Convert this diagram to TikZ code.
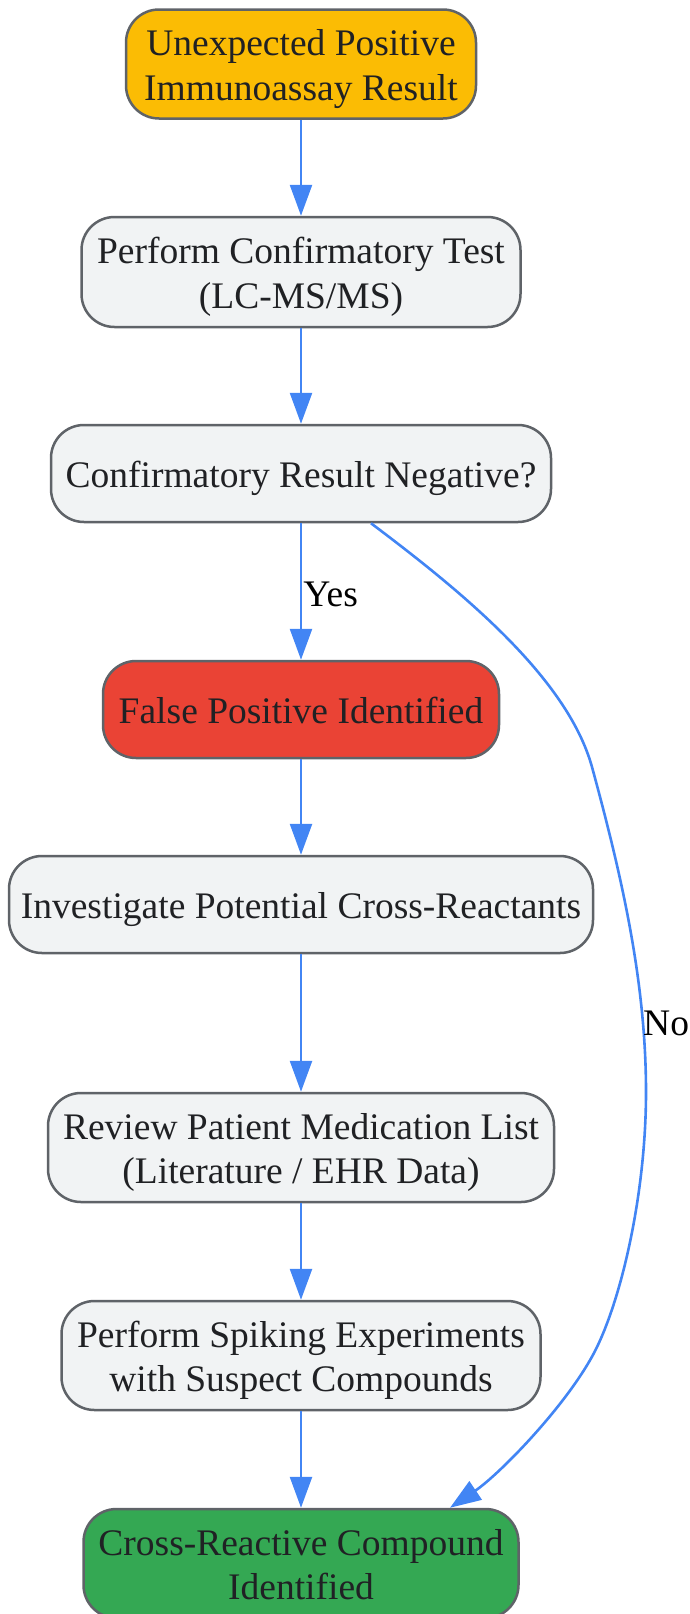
\documentclass[tikz,border=0pt]{standalone}
\usepackage{fontspec}
\setmainfont{Liberation Serif}
\usetikzlibrary{arrows.meta}
\definecolor{cyel}{HTML}{FBBC04}
\definecolor{cgrey}{HTML}{F1F3F4}
\definecolor{cred}{HTML}{EA4335}
\definecolor{cgreen}{HTML}{34A853}
\definecolor{cstroke}{HTML}{5F6368}
\definecolor{cblue}{HTML}{4285F4}
\definecolor{ctext}{HTML}{202124}
\newcommand\boxtxt[1]{\raisebox{-5pt}[\height][\depth]{\begin{tabular}{@{}c@{}}#1\end{tabular}}}
\begin{document}
\begin{tikzpicture}[x=1pt,y=-1pt,
  box/.style={draw=cstroke, line width=2.5pt, rounded corners=33pt,
    text=ctext, font=\fontsize{37.5}{44.5}\selectfont, inner sep=0pt},
  arr/.style={draw=cblue, line width=2.6pt, -{Triangle[length=31pt,width=22pt]}},
  lbl/.style={font=\fontsize{37.5}{44.5}\selectfont, text=black, inner sep=0pt}]
\useasboundingbox (0,0) rectangle (689,1614);
\node[box, fill=cyel, minimum width=350pt, minimum height=109pt] (n1) at (301,64) {\boxtxt{Unexpected Positive\\Immunoassay Result}};
\node[box, fill=cgrey, minimum width=439pt, minimum height=110pt] (n2) at (301,272) {\boxtxt{Perform Confirmatory Test\\(LC-MS/MS)}};
\node[box, fill=cgrey, minimum width=500pt, minimum height=97pt] (n3) at (301,473.5) {\boxtxt{Confirmatory Result Negative?}};
\node[box, fill=cred, minimum width=396pt, minimum height=97pt] (n4) at (301,709.5) {\boxtxt{False Positive Identified}};
\node[box, fill=cgrey, minimum width=584pt, minimum height=97pt] (n5) at (301,904.5) {\boxtxt{Investigate Potential Cross-Reactants}};
\node[box, fill=cgrey, minimum width=506pt, minimum height=109pt] (n6) at (301,1147.5) {\boxtxt{Review Patient Medication List\\(Literature / EHR Data)}};
\node[box, fill=cgrey, minimum width=479pt, minimum height=109pt] (n7) at (301,1355.5) {\boxtxt{Perform Spiking Experiments\\with Suspect Compounds}};
\node[box, fill=cgreen, minimum width=435pt, minimum height=109pt] (n8) at (301,1563.5) {\boxtxt{Cross-Reactive Compound\\Identified}};
\draw[arr] (n1.south) -- (n2.north);
\draw[arr] (n2.south) -- (n3.north);
\draw[arr] (n3.south) -- node[lbl, anchor=west, pos=0.52, xshift=1pt] (yes) {Yes} (n4.north);
\draw[arr] (n4.south) -- (n5.north);
\draw[arr] (n5.south) -- (n6.north);
\draw[arr] (n6.south) -- (n7.north);
\draw[arr] (n7.south) -- (n8.north);
\draw[arr] ([xshift=70pt]n3.south) .. controls (461,591) and (567,677) .. (592,767)
  .. controls (622,877) and (646,982) .. (646,1092)
  .. controls (646,1190) and (623,1293) .. (597,1347)
  .. controls (571,1401) and (500,1474) .. ([xshift=149pt]n8.north);
\node[lbl, anchor=west] (no) at (643,1023) {No};
\end{tikzpicture}
\end{document}
